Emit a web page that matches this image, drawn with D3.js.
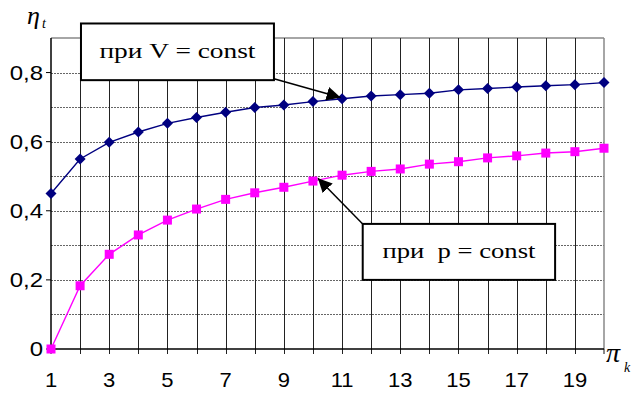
<!DOCTYPE html>
<html>
<head>
<meta charset="utf-8">
<script src="https://cdn.jsdelivr.net/npm/d3@7"></script>
<style>
  body { margin: 0; background: #fff; }
  svg { display: block; }
</style>
</head>
<body>
<svg width="635" height="394"></svg>
<script>
// pressure ratio pi_k
const piK = [1, 2, 3, 4, 5, 6, 7, 8, 9, 10, 11, 12, 13, 14, 15, 16, 17, 18, 19, 20];
// thermal efficiency, V = const
const etaV = [0.450, 0.550, 0.598, 0.628, 0.653, 0.670, 0.685, 0.699, 0.706, 0.716,
              0.724, 0.732, 0.736, 0.740, 0.750, 0.754, 0.758, 0.762, 0.765, 0.771];
// thermal efficiency, p = const
const etaP = [0.000, 0.183, 0.274, 0.330, 0.373, 0.405, 0.433, 0.452, 0.468, 0.486,
              0.503, 0.514, 0.521, 0.535, 0.542, 0.553, 0.559, 0.567, 0.571, 0.581];
const xLabels = [1, 3, 5, 7, 9, 11, 13, 15, 17, 19];
const yLabels = [0, 0.2, 0.4, 0.6, 0.8];
const yGrid = [0.1, 0.2, 0.3, 0.4, 0.5, 0.6, 0.7, 0.8];

const svg = d3.select("svg"),
    margin = {top: 38, right: 31, bottom: 45, left: 51},
    width = +svg.attr("width") - margin.left - margin.right,
    height = +svg.attr("height") - margin.top - margin.bottom,
    g = svg.append("g").attr("transform", "translate(" + margin.left + "," + margin.top + ")");

const x = d3.scaleLinear().domain([1, 20]).range([0, width]);
const y = d3.scaleLinear().domain([0, 0.9]).range([height, 0]);
// snap grid to pixel for sharp lines
const px = v => Math.round(v) + 0.5;

// horizontal dashed grid
g.append("g").selectAll("line")
    .data(yGrid)
    .enter().append("line")
    .attr("x1", 0).attr("x2", width)
    .attr("y1", d => px(y(d))).attr("y2", d => px(y(d)))
    .attr("stroke", "#666")
    .attr("stroke-width", 1)
    .attr("stroke-dasharray", "2,1");

// top + right border (grey)
g.append("line").attr("x1", 0).attr("x2", width).attr("y1", y(0.9)).attr("y2", y(0.9))
    .attr("stroke", "#888").attr("stroke-width", 1.5);
g.append("line").attr("x1", x(20)).attr("x2", x(20)).attr("y1", y(0.9)).attr("y2", y(0))
    .attr("stroke", "#888").attr("stroke-width", 1.5);

// vertical grid + ticks down
g.append("g").selectAll("line")
    .data(piK.slice(1, -1))
    .enter().append("line")
    .attr("x1", d => px(x(d))).attr("x2", d => px(x(d)))
    .attr("y1", y(0.9)).attr("y2", height + 5)
    .attr("stroke", "#222")
    .attr("stroke-width", 1);
g.append("line").attr("x1", x(20)).attr("x2", x(20)).attr("y1", height).attr("y2", height + 5)
    .attr("stroke", "#111");
g.append("line").attr("x1", 0).attr("x2", 0).attr("y1", height).attr("y2", height + 5)
    .attr("stroke", "#111");

// axes lines
g.append("line").attr("x1", 0).attr("x2", width).attr("y1", height).attr("y2", height)
    .attr("stroke", "#000").attr("stroke-width", 1.5);
g.append("line").attr("x1", 0).attr("x2", 0).attr("y1", y(0.9)).attr("y2", height)
    .attr("stroke", "#000").attr("stroke-width", 1.5);

// y ticks + labels (source picture is stretched sideways a bit)
g.append("g").selectAll("line")
    .data(yLabels)
    .enter().append("line")
    .attr("x1", -5).attr("x2", 0)
    .attr("y1", d => y(d)).attr("y2", d => y(d))
    .attr("stroke", "#000");
g.append("g").selectAll("text")
    .data(yLabels)
    .enter().append("text")
    .attr("transform", d => "translate(-8," + y(d) + ") scale(1.2,1)")
    .attr("dy", "0.36em")
    .attr("text-anchor", "end")
    .attr("font-family", "Liberation Sans, Arial, sans-serif")
    .attr("font-size", 20)
    .text(d => d === 0 ? "0" : d3.format(".1f")(d).replace(".", ","));

// x labels
g.append("g").selectAll("text")
    .data(xLabels)
    .enter().append("text")
    .attr("transform", d => "translate(" + x(d) + "," + (height + 38) + ") scale(1.1,1)")
    .attr("text-anchor", "middle")
    .attr("font-family", "Liberation Sans, Arial, sans-serif")
    .attr("font-size", 20)
    .text(d => d);

// series lines
const line = d3.line().x((d, i) => x(piK[i])).y(d => y(d));
g.append("path").datum(etaV)
    .attr("d", line).attr("fill", "none")
    .attr("stroke", "#000080").attr("stroke-width", 1.4);
g.append("path").datum(etaP)
    .attr("d", line).attr("fill", "none")
    .attr("stroke", "#ff00ff").attr("stroke-width", 1.4);

// markers
g.append("g").selectAll("path")
    .data(etaV)
    .enter().append("path")
    .attr("transform", (d, i) => "translate(" + x(piK[i]) + "," + y(d) + ")")
    .attr("d", "M0,-5.5L5.5,0L0,5.5L-5.5,0Z")
    .attr("fill", "#000080");
g.append("g").selectAll("rect")
    .data(etaP)
    .enter().append("rect")
    .attr("x", (d, i) => x(piK[i]) - 4.5)
    .attr("y", d => y(d) - 4.5)
    .attr("width", 9).attr("height", 9)
    .attr("fill", "#ff00ff");

// annotations (data units)
svg.append("defs").append("marker")
    .attr("id", "arrow")
    .attr("viewBox", "0 0 10 10")
    .attr("refX", 10).attr("refY", 5)
    .attr("markerWidth", 14).attr("markerHeight", 14)
    .attr("markerUnits", "userSpaceOnUse")
    .attr("orient", "auto")
    .append("path").attr("d", "M0,0L10,5L0,10Z").attr("fill", "#000");

const notes = [
    {text: "при V = const", len: 156, x0: 2.03, x1: 8.66, y0: 0.942, y1: 0.778, from: [8.66, 0.782], to: [10.95, 0.728]},
    {text: "при  p = const", len: 153, x0: 11.71, x1: 18.32, y0: 0.362, y1: 0.2, from: [11.71, 0.362], to: [10.17, 0.494]}
];
notes.forEach(n => {
    g.append("line")
        .attr("x1", x(n.from[0])).attr("y1", y(n.from[1]))
        .attr("x2", x(n.to[0])).attr("y2", y(n.to[1]))
        .attr("stroke", "#000").attr("stroke-width", 1.5)
        .attr("marker-end", "url(#arrow)");
    g.append("rect")
        .attr("x", x(n.x0)).attr("y", y(n.y0))
        .attr("width", x(n.x1) - x(n.x0)).attr("height", y(n.y1) - y(n.y0))
        .attr("fill", "#fff").attr("stroke", "#000").attr("stroke-width", 2);
    g.append("text")
        .attr("x", (x(n.x0) + x(n.x1)) / 2)
        .attr("y", (y(n.y0) + y(n.y1)) / 2)
        .attr("dy", "0.3em")
        .attr("text-anchor", "middle")
        .attr("font-family", "Liberation Serif, Times New Roman, serif")
        .attr("font-size", 22)
        .attr("textLength", n.len)
        .attr("lengthAdjust", "spacingAndGlyphs")
        .style("white-space", "pre")
        .text(n.text);
});

// axis titles
const eta = svg.append("text").attr("x", 27).attr("y", 24)
    .attr("font-family", "Liberation Serif, Times New Roman, serif")
    .attr("font-style", "italic").attr("font-size", 26);
eta.append("tspan").text("η");
eta.append("tspan").attr("font-size", 14).attr("dx", 2).attr("dy", 4).text("t");

const pi = svg.append("text").attr("x", 606).attr("y", 362)
    .attr("font-family", "Liberation Serif, Times New Roman, serif")
    .attr("font-style", "italic").attr("font-size", 28);
pi.append("tspan").text("π");
pi.append("tspan").attr("font-size", 14).attr("dx", 4).attr("dy", 10).text("k");
</script>
</body>
</html>
